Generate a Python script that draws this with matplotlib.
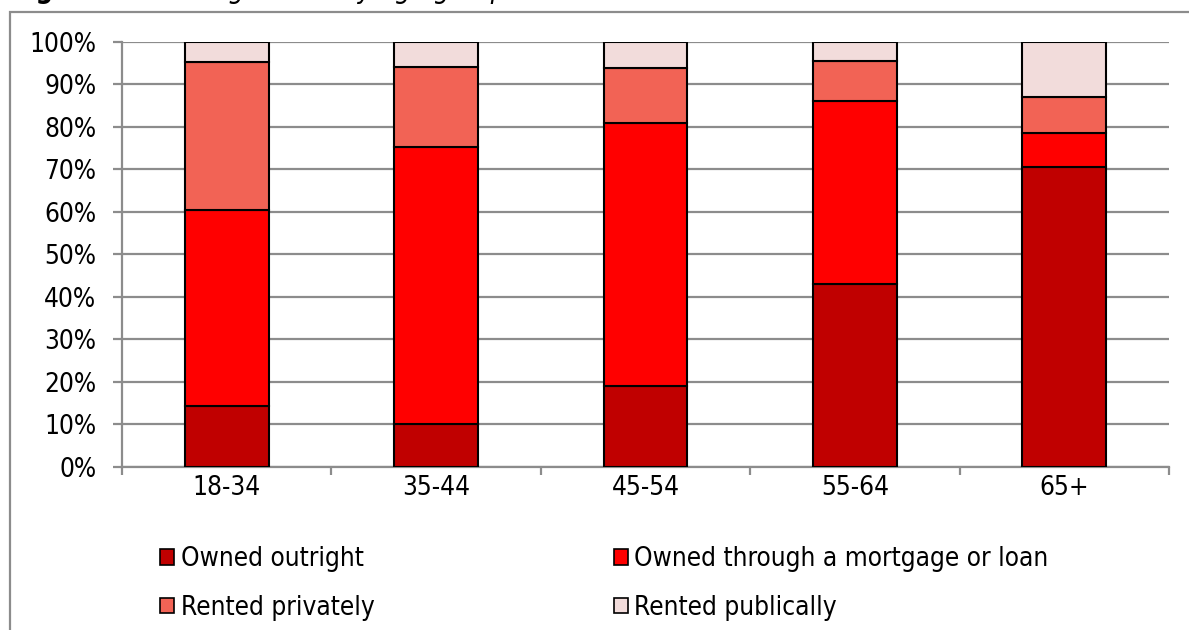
import matplotlib
matplotlib.use("Agg")
import matplotlib.pyplot as plt
from matplotlib.patches import Patch, Rectangle
from matplotlib.ticker import FuncFormatter, FixedLocator

plt.rcParams["font.family"] = ["DejaVu Sans"]
plt.rcParams["font.stretch"] = "condensed"

# Housing tenure by age group (shares of households, %)
age_groups = ["18-34", "35-44", "45-54", "55-64", "65+"]
owned_outright = [14.4, 10.1, 19.0, 43.0, 70.4]
owned_mortgage = [46.0, 65.1, 61.8, 43.0, 8.0]
rented_privately = [34.9, 18.8, 13.1, 9.5, 8.7]
rented_publically = [4.7, 6.0, 6.1, 4.5, 12.9]

series_labels = ["Owned outright", "Owned through a mortgage or loan",
                 "Rented privately", "Rented publically"]
series_values = [owned_outright, owned_mortgage, rented_privately, rented_publically]
series_colors = ["#C00000", "#FF0000", "#F26355", "#F2DCDB"]

W, H = 1189, 630
fig = plt.figure(figsize=(W / 100, H / 100), dpi=100)

grid_col = "#8C8C8C"
fs = 18.8

# chart-area border
fig.patches.append(Rectangle((10 / W, -0.5), 2.0, 1.5 - 12 / H,
                             transform=fig.transFigure, fill=False,
                             edgecolor="#8C8C8C", lw=1.6, zorder=0))

ax = fig.add_axes([122 / W, 1 - 466.7 / H, (1169 - 122) / W, (466.7 - 41.7) / H])

x = list(range(len(age_groups)))
bottom = [0.0] * len(age_groups)
for vals, col, lab in zip(series_values, series_colors, series_labels):
    ax.bar(x, vals, width=0.4, bottom=bottom, color=col, edgecolor="black",
           linewidth=1.5, label=lab, zorder=3)
    bottom = [b + v for b, v in zip(bottom, vals)]

ax.set_xlim(-0.5, len(age_groups) - 0.5)
ax.set_ylim(0, 100)
ax.set_yticks(range(0, 101, 10))
ax.yaxis.set_major_formatter(FuncFormatter(lambda v, p: f"{int(v)}%"))
ax.yaxis.grid(True, color=grid_col, lw=1.6, zorder=0)
ax.set_axisbelow(True)

# category boundaries carry the tick marks, centres carry the labels
ax.xaxis.set_major_locator(FixedLocator([i - 0.5 for i in range(len(age_groups) + 1)]))
ax.xaxis.set_major_formatter(FuncFormatter(lambda v, p: ""))
ax.xaxis.set_minor_locator(FixedLocator(x))
ax.set_xticklabels(age_groups, minor=True)
ax.tick_params(axis="x", which="major", length=6, width=1.6, color=grid_col, direction="out")
ax.tick_params(axis="x", which="minor", length=0, pad=6, labelsize=fs)
ax.tick_params(axis="y", length=6.5, width=1.6, color=grid_col, pad=12, labelsize=fs)

for s in ("top", "right"):
    ax.spines[s].set_visible(False)
for s in ("left", "bottom"):
    ax.spines[s].set_color(grid_col)
    ax.spines[s].set_linewidth(1.6)

handles = [Patch(facecolor=c, edgecolor="black", lw=1.2) for c in series_colors]
order = [0, 2, 1, 3]
fig.legend([handles[i] for i in order], [series_labels[i] for i in order],
           ncol=2, loc="upper left", bbox_to_anchor=(160 / W, 1 - 546 / H),
           frameon=False, fontsize=fs, handlelength=0.55, handleheight=0.55,
           handletextpad=0.25, columnspacing=9.15, labelspacing=0.87,
           borderaxespad=0, borderpad=0)

# figure caption sitting at the top edge
t1 = fig.text(10 / W, 1 + 1.5 / H, "Figure 6: ", fontsize=fs + 1, fontweight="bold",
              va="baseline", ha="left")
fig.canvas.draw()
bb = t1.get_window_extent()
fig.text(bb.x1 / W, 1 + 1.5 / H, "Housing tenure by age group", fontsize=fs + 1,
         style="italic", va="baseline", ha="left")

fig.savefig("out.png", dpi=100)
